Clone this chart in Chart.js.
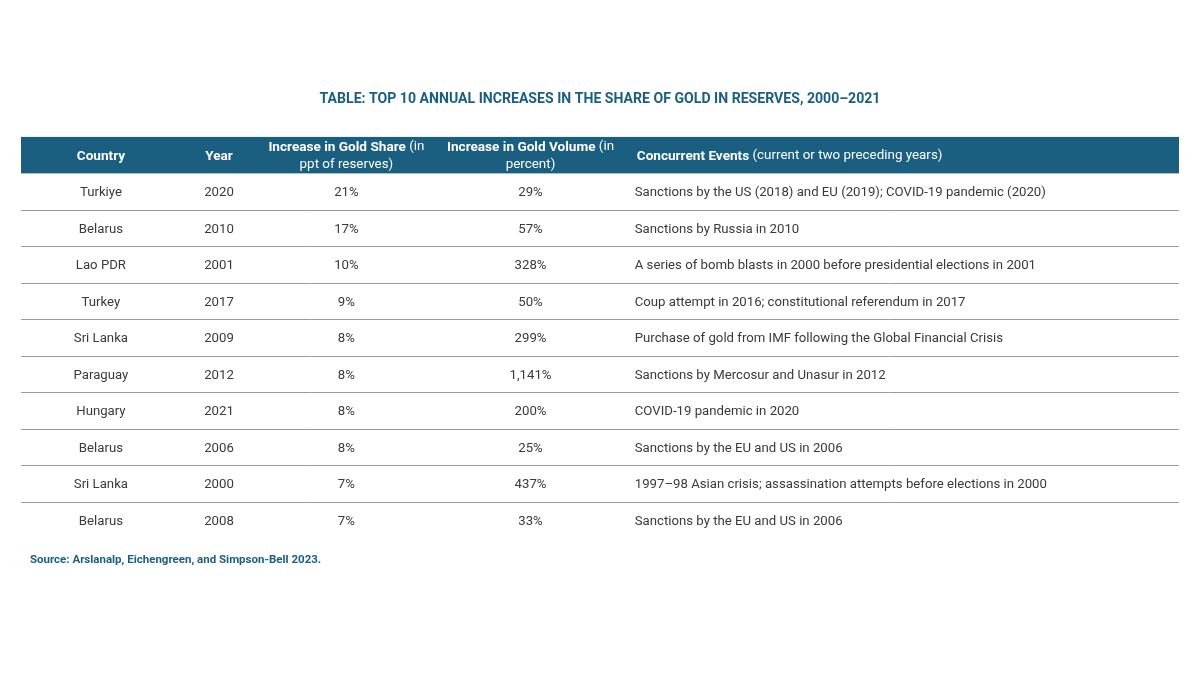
<!DOCTYPE html>
<html>
<head>
<meta charset="utf-8">
<script src="https://cdn.jsdelivr.net/npm/chart.js@4.4.0/dist/chart.umd.min.js"></script>
<style>
  html, body { margin: 0; padding: 0; background: #fff; }
</style>
</head>
<body>
<canvas id="myChart" width="1200" height="675"></canvas>
<script>
let countries = ["Turkiye", "Belarus", "Lao PDR", "Turkey", "Sri Lanka", "Paraguay", "Hungary", "Belarus", "Sri Lanka", "Belarus"];
let years = [2020, 2010, 2001, 2017, 2009, 2012, 2021, 2006, 2000, 2008];
let goldShare = [21, 17, 10, 9, 8, 8, 8, 8, 7, 7];
let goldVolume = [29, 57, 328, 50, 299, 1141, 200, 25, 437, 33];
let events = [
  "Sanctions by the US (2018) and EU (2019); COVID-19 pandemic (2020)",
  "Sanctions by Russia in 2010",
  "A series of bomb blasts in 2000 before presidential elections in 2001",
  "Coup attempt in 2016; constitutional referendum in 2017",
  "Purchase of gold from IMF following the Global Financial Crisis",
  "Sanctions by Mercosur and Unasur in 2012",
  "COVID-19 pandemic in 2020",
  "Sanctions by the EU and US in 2006",
  "1997\u201398 Asian crisis; assassination attempts before elections in 2000",
  "Sanctions by the EU and US in 2006"
];

// header cells: lines of [text, bold] runs
let headers = [
  [[["Country", true]]],
  [[["Year", true]]],
  [[["Increase in Gold Share", true], [" (in", false]], [["ppt of reserves)", false]]],
  [[["Increase in Gold Volume", true], [" (in", false]], [["percent)", false]]],
  [[["Concurrent Events", true], [" (current or two preceding years)", false]]]
];

const BLUE = "#1a5e80";
const TEXT = "#3a3a3a";
const FONT = "Roboto, 'Noto Sans', sans-serif";

// column anchors on the x scale (0..100 across the table)
const colX = [6.9, 17.1, 28.1, 44.0, 53.0];
const colAlign = ["center", "center", "center", "center", "left"];

let columns = [
  countries,
  years.map(String),
  goldShare.map(v => v + "%"),
  goldVolume.map(v => v.toLocaleString("en-US") + "%"),
  events
];

let datasets = columns.map((col, c) => ({
  label: "col" + c,
  data: col.map((txt, i) => ({ x: colX[c], y: i })),
  pointRadius: 0,
  showLine: false
}));

function drawRuns(ctx, runs, x, y, align) {
  const fontOf = r => (r[1] ? "bold 13.6px " : "13.4px ") + FONT;
  let widths = runs.map(r => {
    ctx.font = fontOf(r);
    return ctx.measureText(r[0]).width;
  });
  let total = widths.reduce((a, b) => a + b, 0);
  let cx = align === "center" ? x - total / 2 : x;
  ctx.textAlign = "left";
  runs.forEach((r, k) => {
    ctx.font = fontOf(r);
    ctx.fillText(r[0], cx, y);
    cx += widths[k];
  });
}

const tablePlugin = {
  id: "table",
  beforeDatasetsDraw(chart) {
    const ctx = chart.ctx;
    const xs = chart.scales.x, ys = chart.scales.y;
    const left = xs.getPixelForValue(0), right = xs.getPixelForValue(100);
    ctx.save();
    // header band
    const top = ys.getPixelForValue(-1.5), bot = ys.getPixelForValue(-0.5);
    ctx.fillStyle = BLUE;
    ctx.fillRect(left, top, right - left, bot - top);
    // row separators
    ctx.strokeStyle = "#9a9a9a";
    ctx.lineWidth = 1;
    for (let i = 0; i < countries.length - 1; i++) {
      const y = Math.round(ys.getPixelForValue(i + 0.5)) + 0.5;
      ctx.beginPath();
      ctx.moveTo(left, y);
      ctx.lineTo(right, y);
      ctx.stroke();
    }
    ctx.restore();
  },
  afterDatasetsDraw(chart) {
    const ctx = chart.ctx;
    const xs = chart.scales.x, ys = chart.scales.y;
    ctx.save();
    ctx.textBaseline = "middle";
    // header text
    ctx.fillStyle = "#ffffff";
    headers.forEach((lines, c) => {
      const x = xs.getPixelForValue(colX[c]) + (c === 4 ? 2 : 0);
      const yc = ys.getPixelForValue(-1) + 1;
      lines.forEach((runs, k) => {
        const y = yc + (k - (lines.length - 1) / 2) * 18;
        drawRuns(ctx, runs, x, y, colAlign[c]);
      });
    });
    // body cells
    ctx.fillStyle = TEXT;
    ctx.font = "13.2px " + FONT;
    chart.data.datasets.forEach((ds, c) => {
      ctx.textAlign = colAlign[c];
      chart.getDatasetMeta(c).data.forEach((pt, i) => {
        ctx.fillText(columns[c][i], pt.x, pt.y + 1.5);
      });
    });
    // source note
    ctx.fillStyle = BLUE;
    ctx.textAlign = "left";
    ctx.font = "bold 11.5px " + FONT;
    ctx.fillText("Source: Arslanalp, Eichengreen, and Simpson-Bell 2023.",
      chart.chartArea.left + 9, chart.chartArea.bottom + 22);
    ctx.restore();
  }
};

let tableChart = new Chart(document.getElementById("myChart"), {
  type: "scatter",
  data: { datasets: datasets },
  plugins: [tablePlugin],
  options: {
    responsive: false,
    animation: false,
    events: [],
    layout: { padding: { left: 21, right: 21, top: 0, bottom: 137 } },
    scales: {
      x: { type: "linear", min: 0, max: 100, display: false },
      y: { type: "linear", min: -1.5, max: 9.5, reverse: true, display: false }
    },
    plugins: {
      legend: { display: false },
      tooltip: { enabled: false },
      title: {
        display: true,
        text: "TABLE: TOP 10 ANNUAL INCREASES IN THE SHARE OF GOLD IN RESERVES, 2000\u20132021",
        color: BLUE,
        font: { family: FONT, size: 14.1, weight: "bold" },
        padding: { top: 91, bottom: 29 }
      }
    }
  }
});
</script>
</body>
</html>
